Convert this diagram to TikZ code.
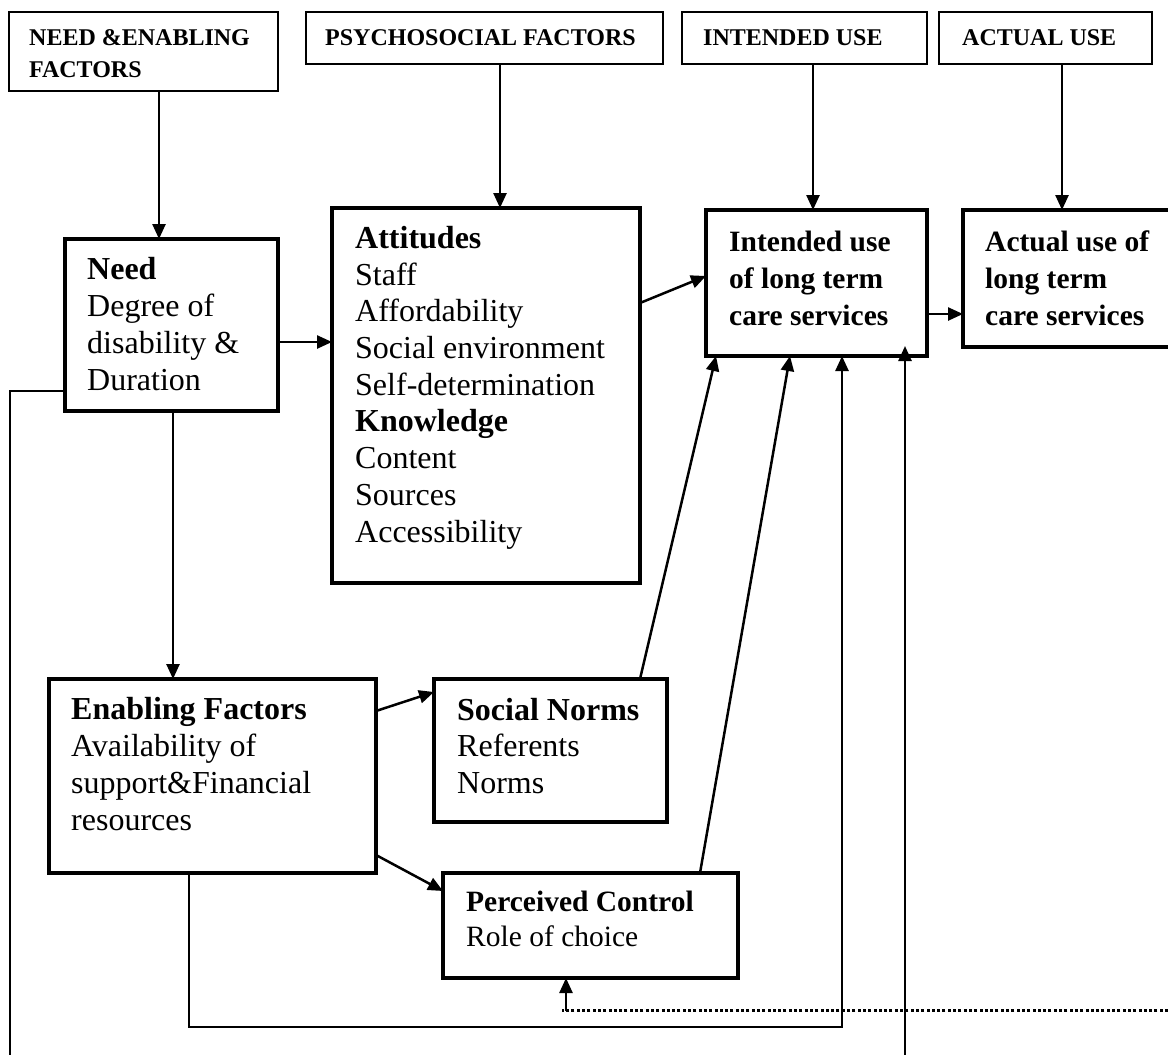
\documentclass[tikz,border=0pt]{standalone}
\usepackage{fontspec}
\setmainfont{Liberation Serif}
\usetikzlibrary{arrows.meta,calc}
\tikzset{
  topbox/.style={draw, line width=1.6pt, inner sep=0pt, outer sep=0pt, anchor=north west},
  mainbox/.style={draw, line width=3.4pt, inner sep=0pt, outer sep=0pt, anchor=north west},
  toptxt/.style={anchor=base west, align=left, inner sep=0pt, font=\fontsize{24}{32}\selectfont\bfseries},
  maintxt/.style={anchor=base west, align=left, inner sep=0pt, font=\fontsize{32}{36.7}\selectfont},
  conn/.style={line width=2.5pt},
  arr/.style={line width=2.5pt, -{Triangle[length=15pt,width=13pt]}},
  dotline/.style={line width=3pt, dash pattern=on 3pt off 2.3pt}
}
\begin{document}
\begin{tikzpicture}[x=1pt,y=-1pt]
\useasboundingbox (0,0) rectangle (1168,1055);
\clip (0,0) rectangle (1168,1055);
% top boxes (text nodes anchored at the baseline of their last line)
\node[topbox, minimum width=269pt, minimum height=79pt] (b1) at (9,12) {};
\node[toptxt] (b1t) at (29,77) {NEED \&ENABLING\\FACTORS};
\node[topbox, minimum width=357pt, minimum height=52pt] (b2) at (306,12) {};
\node[toptxt] (b2t) at (325,45) {PSYCHOSOCIAL FACTORS};
\node[topbox, minimum width=245pt, minimum height=52pt] (b3) at (682,12) {};
\node[toptxt] (b3t) at (703,45) {INTENDED USE};
\node[topbox, minimum width=213pt, minimum height=52pt] (b4) at (939,12) {};
\node[toptxt] (b4t) at (962,45) {ACTUAL USE};
% main boxes
\node[mainbox, minimum width=213pt, minimum height=172pt] (need) at (65,239) {};
\node[maintxt] (needt) at (87,390) {\textbf{Need}\\Degree of\\disability \&\\Duration};
\node[mainbox, minimum width=308pt, minimum height=375pt] (att) at (332,208) {};
\node[maintxt] (attt) at (355,542) {\textbf{Attitudes}\\Staff\\Affordability\\Social environment\\Self-determination\\\textbf{Knowledge}\\Content\\Sources\\Accessibility};
\node[mainbox, minimum width=221pt, minimum height=146pt] (int) at (706,210) {};
\node[maintxt, font=\fontsize{29.5}{37}\selectfont\bfseries] (intt) at (729,325) {Intended use\\of long term\\care services};
\node[mainbox, minimum width=230pt, minimum height=137pt] (act) at (963,210) {};
\node[maintxt, font=\fontsize{29.5}{37}\selectfont\bfseries] (actt) at (985,325) {Actual use of\\long term\\care services};
\node[mainbox, minimum width=327pt, minimum height=194pt] (enab) at (49,679) {};
\node[maintxt] (enabt) at (71,830) {\textbf{Enabling Factors}\\Availability of\\support\&Financial\\resources};
\node[mainbox, minimum width=233pt, minimum height=143pt] (soc) at (434,679) {};
\node[maintxt, font=\fontsize{32}{36.5}\selectfont] (soct) at (457,793) {\textbf{Social Norms}\\Referents\\Norms};
\node[mainbox, minimum width=295pt, minimum height=105pt] (perc) at (443,873) {};
\node[maintxt, font=\fontsize{29.5}{34.3}\selectfont] (perct) at (466,946) {\textbf{Perceived Control}\\Role of choice};
% free ends
\coordinate (leftend) at (10,1055);
\coordinate (rightend) at (905,1055);
\coordinate (dotend) at (1168,1010);
% connectors from top boxes
\draw[arr] (b1.south -| 159,0) -- (need.north -| 159,0);
\draw[arr] (b2.south -| 500,0) -- (att.north -| 500,0);
\draw[arr] (b3.south -| 813,0) -- (int.north -| 813,0);
\draw[arr] (b4.south -| 1062,0) -- (act.north -| 1062,0);
% main connectors
\draw[arr] (need.east |- 0,342) -- (att.west |- 0,342);
\draw[arr] (att.east |- 0,303) -- (int.west |- 0,276);
\draw[arr] (int.east |- 0,314) -- (act.west |- 0,314);
\draw[arr] (need.south -| 173,0) -- (enab.north -| 173,0);
\draw[arr] (enab.east |- 0,711) -- (soc.west |- 0,692);
\draw[arr] (enab.east |- 0,855) -- (perc.west |- 0,891);
\draw[arr] (soc.north -| 640,0) -- (int.south -| 716,0);
\draw[arr] (perc.north -| 700,0) -- (int.south -| 790,0);
\draw[arr] (enab.south -| 189,0) -- (189,1027) -- (842,1027) -- (int.south -| 842,0);
\draw[arr] (rightend) -- (905,346);
\draw[conn] (need.west |- 0,391) -- (10,391) -- (leftend);
\draw[dotline] (dotend) -- (562,1010);
\draw[arr] (566,1011) -- (perc.south -| 566,0);
\end{tikzpicture}
\end{document}
